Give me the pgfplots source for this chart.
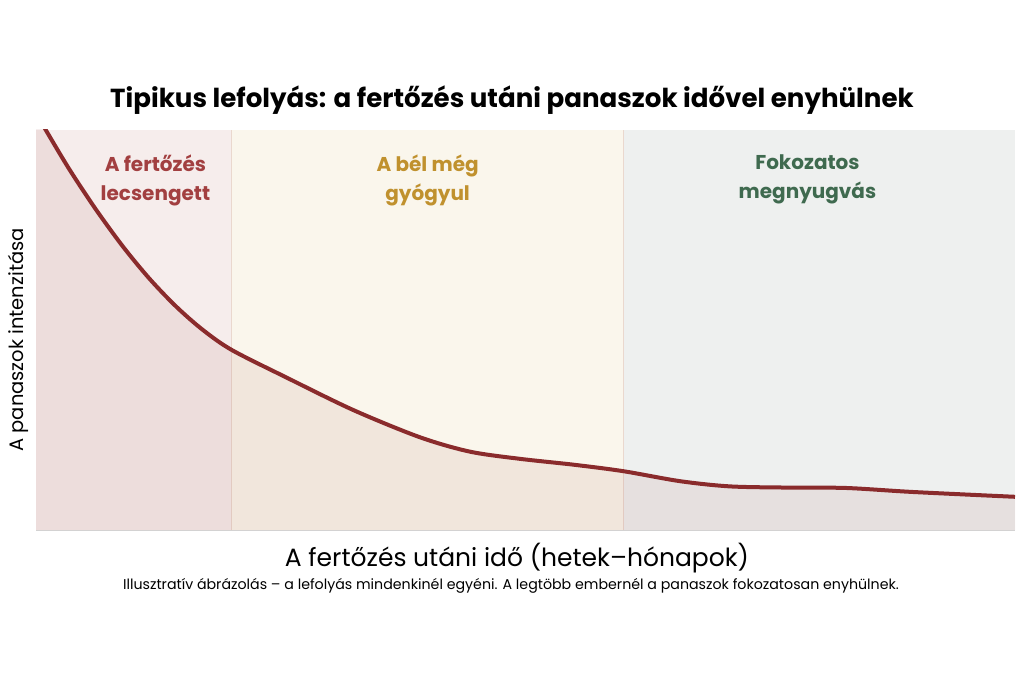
\documentclass[border=0pt]{standalone}
\usepackage{fontspec}
\setmainfont{Poppins}
\usepackage{pgfplots}
\pgfplotsset{compat=1.18}
\definecolor{curve}{HTML}{8A2B2C}
\definecolor{regA}{HTML}{F6EDEC}
\definecolor{regB}{HTML}{FAF6EC}
\definecolor{regC}{HTML}{EEF0EF}
\definecolor{labA}{HTML}{A23F40}
\definecolor{labB}{HTML}{C0912E}
\definecolor{labC}{HTML}{3F6A4F}
\definecolor{sep}{HTML}{EAD8CE}
\begin{document}
\begin{tikzpicture}[x=1pt,y=1pt]
\path[use as bounding box] (0,0) rectangle (1024,683);
\begin{axis}[at={(36pt,153pt)}, anchor=south west, scale only axis,
  width=979pt, height=400pt, xmin=0, xmax=10, ymin=0, ymax=100,
  axis x line*=bottom, axis y line*=left,
  axis line style={draw=black!17, line width=1pt, -},
  xtick=\empty, ytick=\empty]
\addplot[fill=regA, draw=none] coordinates {(0,0)(2,0)(2,100)(0,100)} -- cycle;
\addplot[fill=regB, draw=none] coordinates {(2,0)(6,0)(6,100)(2,100)} -- cycle;
\addplot[fill=regC, draw=none] coordinates {(6,0)(10,0)(10,100)(6,100)} -- cycle;
\addplot[draw=sep, line width=0.8pt] coordinates {(2,0)(2,100)};
\addplot[draw=sep, line width=0.8pt] coordinates {(6,0)(6,100)};
\addplot[fill=curve, fill opacity=0.08, draw=none, smooth] coordinates {
(0,104.3) (0.10,100) (0.34,90.2) (0.61,80.2) (0.89,70.8) (1.16,62.8) (1.43,55.9) (1.70,50.1) (2.0,45.0) (2.56,38.1) (3.24,30) (3.92,23.2) (4.43,19.6) (4.94,17.8) (5.5,16.3) (6.0,14.7) (6.58,12.2) (7.09,10.9) (7.7,10.6) (8.28,10.5) (8.96,9.5) (10,8.3)} \closedcycle;
\addplot[draw=curve, line width=4pt, smooth] coordinates {
(0,104.3) (0.10,100) (0.34,90.2) (0.61,80.2) (0.89,70.8) (1.16,62.8) (1.43,55.9) (1.70,50.1) (2.0,45.0) (2.56,38.1) (3.24,30) (3.92,23.2) (4.43,19.6) (4.94,17.8) (5.5,16.3) (6.0,14.7) (6.58,12.2) (7.09,10.9) (7.7,10.6) (8.28,10.5) (8.96,9.5) (10,8.3)};
\node[font=\bfseries\fontsize{20}{29}\selectfont, text=labA, align=center] at (axis cs:1.22,87.35) {A fertőzés\\lecsengett};
\node[font=\bfseries\fontsize{20}{29}\selectfont, text=labB, align=center] at (axis cs:4.0,87.35) {A bél még\\gyógyul};
\node[font=\bfseries\fontsize{20}{29}\selectfont, text=labC, align=center] at (axis cs:7.88,87.6) {Fokozatos\\megnyugvás};
\end{axis}
\node[font=\bfseries\fontsize{26.1}{30}\selectfont] at (512,583) {Tipikus lefolyás: a fertőzés utáni panaszok idővel enyhülnek};
\node[font=\fontsize{25}{30}\selectfont] at (517,125) {A fertőzés utáni idő (hetek–hónapok)};
\node[font=\fontsize{14.2}{17}\selectfont] at (511,97) {Illusztratív ábrázolás – a lefolyás mindenkinél egyéni. A legtöbb embernél a panaszok fokozatosan enyhülnek.};
\node[font=\fontsize{19.5}{24}\selectfont, rotate=90] at (18,343) {A panaszok intenzitása};
\end{tikzpicture}
\end{document}
